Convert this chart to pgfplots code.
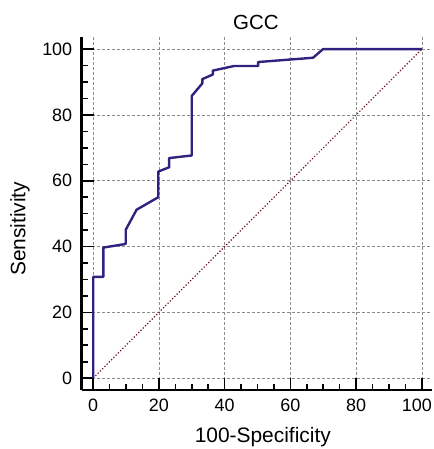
\documentclass[border=0pt]{standalone}
\usepackage{pgfplots}
\pgfplotsset{compat=1.18}
\usepackage{fontspec}
\setmainfont{Liberation Sans}
\definecolor{roc}{RGB}{46,36,128}
\definecolor{diag}{RGB}{110,15,25}
\begin{document}
\begin{tikzpicture}
\begin{axis}[
  scale only axis, width=350bp, height=353.3bp,
  xmin=-3.5, xmax=103, ymin=-3.6, ymax=103.8,
  axis x line*=bottom, axis y line*=left,
  axis line style={line width=2.6bp, -},
  xtick={0,20,...,100}, ytick={0,20,...,100},
  xticklabels={0,20,40,60,80,\hspace*{-10bp}100},
  minor tick num=3,
  tick align=inside,
  major tick length=12bp, minor tick length=6bp,
  every tick/.style={black, line width=1.6bp},
  grid=major,
  major grid style={gray!90, dash pattern=on 3bp off 2bp, line width=0.6bp},
  /pgf/number format/assume math mode=true,
  tick label style={font=\fontsize{18}{20}\selectfont},
  xticklabel style={yshift=-5bp},
  yticklabel style={xshift=-6bp},
  clip=false,
]
\addplot[diag, dotted, line width=1.2bp] coordinates {(0,0) (100,100)};
\addplot[roc, line width=2.4bp, line join=round] coordinates {
(0,0) (0,30.8) (3.1,30.8) (3.1,39.7) (9.9,40.8) (9.9,45.1) (13.2,51.2)
(19.8,55.0) (19.8,62.8) (23.1,64.1) (23.1,66.9) (30.0,67.7) (30.0,85.8)
(33.2,89.6) (33.2,90.9) (36.4,92.3) (36.4,93.5) (42.9,94.9) (50.2,94.9)
(50.2,96.1) (66.9,97.4) (69.9,100) (100,100)};
\node[font=\fontsize{20.5}{22}\selectfont] at (axis cs:49.5,108.2) {GCC};
\node[font=\fontsize{21}{23}\selectfont] at (axis cs:51.6,-18) {100-Specificity};
\node[font=\fontsize{21}{23}\selectfont, rotate=90] at (axis cs:-22.3,45.4) {Sensitivity};
\end{axis}
\pgfresetboundingbox
\path[use as bounding box] (-81.7bp,-59bp) rectangle (352.3bp,390bp);
\end{tikzpicture}
\end{document}
